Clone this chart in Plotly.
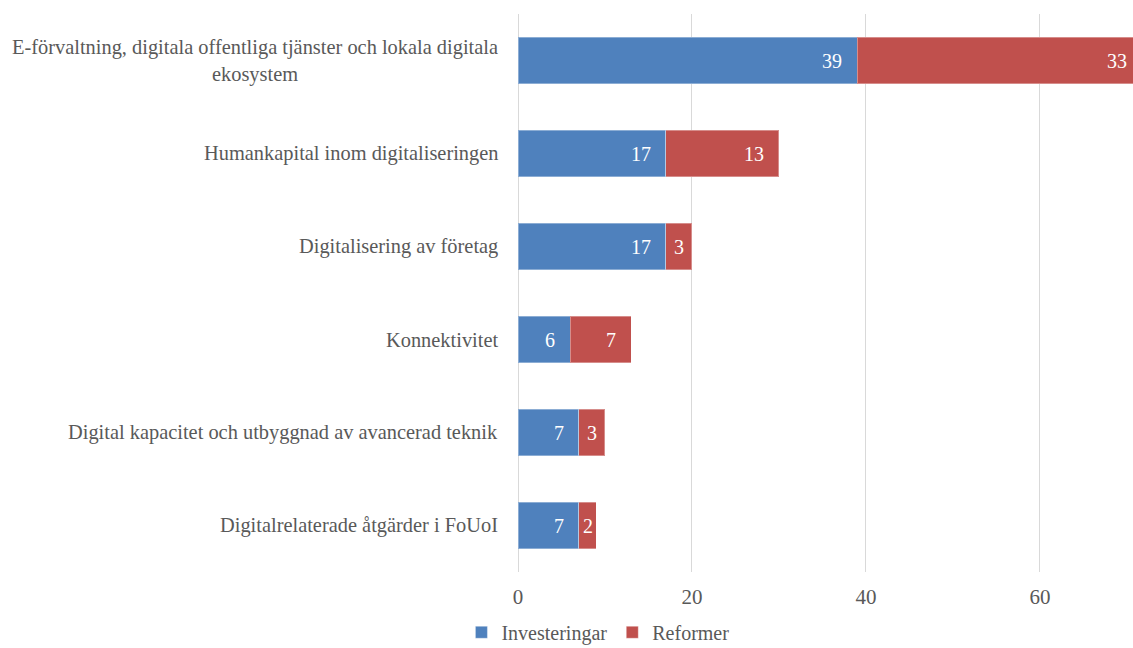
import plotly.graph_objects as go

categories = [
    "E-förvaltning, digitala offentliga tjänster och lokala digitala<br>ekosystem",
    "Humankapital inom digitaliseringen",
    "Digitalisering av företag",
    "Konnektivitet",
    "Digital kapacitet och utbyggnad av avancerad teknik",
    "Digitalrelaterade åtgärder i FoUoI",
]
investeringar = [39, 17, 17, 6, 7, 7]
reformer = [33, 13, 3, 7, 3, 2]
series_names = ["Investeringar", "Reformer"]
tick_vals = [0, 20, 40, 60]

BLUE = "#4F81BD"
RED = "#C0504D"
GRAY = "#595959"
FONT = "Liberation Serif, Times New Roman, serif"
XMAX = 70.7

fig = go.Figure()
fig.add_trace(go.Bar(
    y=categories, x=investeringar, orientation="h", name=series_names[0],
    marker=dict(color=BLUE, line=dict(color="rgba(255,255,255,0.35)", width=1)),
))
fig.add_trace(go.Bar(
    y=categories, x=reformer, orientation="h", name=series_names[1],
    marker=dict(color=RED, line=dict(color="rgba(255,255,255,0.35)", width=1)),
))

annotations = []
# data labels
for cat, inv, ref in zip(categories, investeringar, reformer):
    for start, val in ((0, inv), (inv, ref)):
        end = start + val
        if val >= 5:
            clipped = end > XMAX
            annotations.append(dict(
                x=min(end, XMAX), y=cat, xref="x", yref="y", text=str(val), showarrow=False,
                xanchor="right", xshift=-4 if clipped else -13,
                font=dict(family=FONT, size=20, color="white"),
            ))
        else:
            annotations.append(dict(
                x=start + val / 2, y=cat, xref="x", yref="y", text=str(val), showarrow=False,
                xanchor="center", font=dict(family=FONT, size=20, color="white"),
            ))
# category labels
for cat in categories:
    annotations.append(dict(
        x=0, y=cat, xref="paper", yref="y", text=cat, showarrow=False,
        xanchor="right", xshift=-18, align="center",
        font=dict(family=FONT, size=20.4, color=GRAY),
    ))

fig.update_layout(
    width=1133, height=648,
    margin=dict(l=518, r=0, t=14, b=76, autoexpand=False),
    paper_bgcolor="white", plot_bgcolor="white",
    barmode="stack", bargap=0.505,
    showlegend=True,
    legend=dict(orientation="h", x=-0.092, xanchor="left", y=-0.108, yanchor="middle",
                font=dict(family=FONT, size=20, color=GRAY), itemwidth=30,
                traceorder="normal"),
    annotations=annotations,
    xaxis=dict(range=[0, XMAX], tickvals=tick_vals, showgrid=True, gridcolor="#D9D9D9",
               gridwidth=1, zeroline=True, zerolinecolor="#D9D9D9", zerolinewidth=1,
               showline=False, ticks="outside", ticklen=6, tickcolor="rgba(0,0,0,0)",
               tickfont=dict(family=FONT, size=21, color=GRAY), fixedrange=True),
    yaxis=dict(autorange="reversed", showticklabels=False, showgrid=False,
               zeroline=False, showline=False, ticks="", fixedrange=True),
)

fig.write_html("out.html", config={"displayModeBar": False},
               post_script="document.body.style.margin='0';document.body.style.overflow='hidden';")
